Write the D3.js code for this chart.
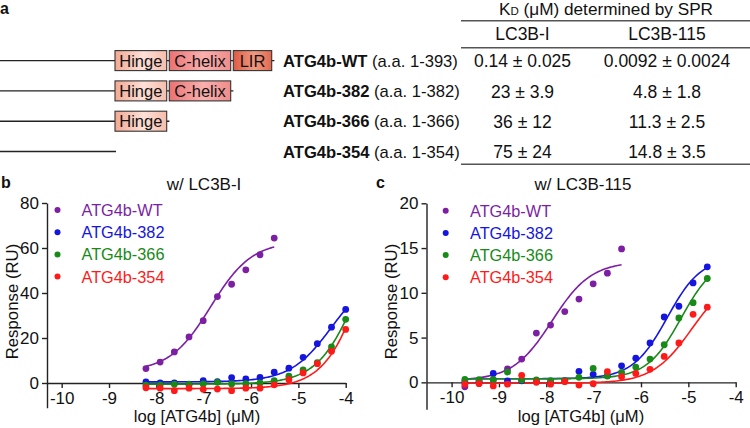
<!DOCTYPE html>
<html><head><meta charset="utf-8">
<script src="https://cdn.jsdelivr.net/npm/d3@7"></script>
<style>
body{margin:0;background:#fff}
svg{display:block}
text{font-family:"Liberation Sans",Arial,Helvetica,sans-serif;fill:#111}
</style>
</head><body>
<svg id="fig" width="750" height="428"></svg>
<script>
// ---------- Panel a data ----------
const constructNames = ["ATG4b-WT", "ATG4b-382", "ATG4b-366", "ATG4b-354"];
const constructRanges = ["(a.a. 1-393)", "(a.a. 1-382)", "(a.a. 1-366)", "(a.a. 1-354)"];
const domainNames = ["Hinge", "C-helix", "LIR"];
const domainsPerConstruct = [3, 2, 1, 0];
const tableColumns = ["LC3B-I", "LC3B-115"];
const kdLC3BI = ["0.14 ± 0.025", "23 ± 3.9", "36 ± 12", "75 ± 24"];
const kdLC3B115 = ["0.0092 ± 0.0024", "4.8 ± 1.8", "11.3 ± 2.5", "14.8 ± 3.5"];

// ---------- Panels b / c data ----------
const seriesNames = ["ATG4b-WT", "ATG4b-382", "ATG4b-366", "ATG4b-354"];
const seriesColors = ["#7d1fa3", "#1515e0", "#178a17", "#ff1a1a"];

const xTicks = [-10, -9, -8, -7, -6, -5, -4];
const yTicksB = [0, 20, 40, 60, 80];
const yTicksC = [0, 5, 10, 15, 20];

// panel b: log concentration (M), 2-fold series
const concB = [-8.22, -7.92, -7.62, -7.31, -7.01, -6.71, -6.41, -6.11, -5.81, -5.51, -5.20, -4.90, -4.60, -4.30, -4.00];
const respB_WT  = [6.4, 9.3, 13.8, 20.5, 27.7, 38.4, 43.9, 50.3, 57.0, 64.4];
const respB_382 = [0.5, 0.0, 0.1, -0.5, 1.0, 0.6, 2.4, 1.8, 2.5, 4.8, 6.6, 11.4, 17.5, 24.8, 32.7];
const respB_366 = [-1.0, -0.8, -0.5, -0.6, -0.4, 0.3, -0.4, -0.3, 0.0, 1.0, 3.0, 5.8, 9.0, 16.1, 28.3];
const respB_354 = [-2.1, -2.3, -3.4, -2.3, -2.8, -2.7, -3.4, -2.3, -2.3, -0.8, 1.5, 4.5, 8.6, 14.1, 23.8];
const fitB_bottom = [5, 0.5, -0.5, -2.5];
const fitB_top = [63, 49, 85, 110];
const fitB_logEC50 = [-6.85, -4.3, -3.7, -3.5];
const fitB_hill = [1, 1, 1, 1];

// panel c
const concC = [-9.72, -9.42, -9.12, -8.82, -8.52, -8.21, -7.91, -7.61, -7.31, -7.01, -6.71, -6.41, -6.11, -5.81, -5.51, -5.20, -4.90, -4.60];
const respC_WT  = [-0.5, 0.0, 0.3, 1.5, 2.6, 5.5, 6.4, 7.9, 9.3, 11.0, 12.2, 14.9];
const respC_382 = [0.05, 0.1, 1.0, 0.17, 0.17, 0.1, 0.0, 0.2, 1.23, 0.9, 0.75, 1.85, 2.7, 4.4, 7.3, 8.5, 11.1, 12.9];
const respC_366 = [0.33, 0.3, 0.3, 1.15, 0.26, 0.26, 0.2, 0.2, 0.56, 1.56, 0.7, 1.1, 1.7, 2.6, 4.2, 7.2, 8.9, 11.6];
const respC_354 = [-0.2, -0.15, -0.4, -0.2, 0.78, 0.0, -0.2, 0.07, -0.3, -0.15, 1.2, 0.63, 1.0, 1.45, 2.9, 4.4, 7.6, 8.4];
const fitC_bottom = [0.2, 0.4, 0.4, -0.1];
const fitC_top = [13.5, 14, 14, 12];
const fitC_logEC50 = [-7.88, -5.45, -5.15, -4.93];
const fitC_hill = [1.05, 1.2, 1.2, 1.05];

// ---------- drawing ----------
const svg = d3.select("#fig");
const FONT = 17;

// Panel label a
svg.append("text").attr("x", 0).attr("y", 14).attr("font-size", 16).attr("font-weight", "bold").text("a");

// gradients
const defs = svg.append("defs");
const gradSpecs = [
  ["gHinge", "#f3a892", "#fde1d8", "#f6bcab"],
  ["gCHelix", "#ea7272", "#f9b0ae", "#ef8c8a"],
  ["gLIR", "#de5a44", "#f09a80", "#e4684f"]
];
gradSpecs.forEach(([id, a, b, c]) => {
  const g = defs.append("linearGradient").attr("id", id).attr("x1", "0%").attr("x2", "100%");
  g.append("stop").attr("offset", "0%").attr("stop-color", a);
  g.append("stop").attr("offset", "55%").attr("stop-color", b);
  g.append("stop").attr("offset", "100%").attr("stop-color", c);
});
const gradIds = ["gHinge", "gCHelix", "gLIR"];
const boxX = [[115, 166.7], [169.3, 230.7], [233.3, 271.7]];
const rowY = i => 60.6 + i * 30.3;

constructNames.forEach((name, i) => {
  const cy = rowY(i);
  const nd = domainsPerConstruct[i];
  const lineEnd = nd === 0 ? 116 : boxX[nd - 1][1] + 2.7;
  svg.append("line").attr("x1", 0).attr("x2", lineEnd).attr("y1", cy).attr("y2", cy)
    .attr("stroke", "#222").attr("stroke-width", 1.4);
  for (let d = 0; d < nd; d++) {
    svg.append("rect").attr("x", boxX[d][0]).attr("y", cy - 10).attr("width", boxX[d][1] - boxX[d][0]).attr("height", 20)
      .attr("fill", `url(#${gradIds[d]})`).attr("stroke", "#333").attr("stroke-width", 1.1);
    svg.append("text").attr("x", (boxX[d][0] + boxX[d][1]) / 2).attr("y", cy + 6).attr("text-anchor", "middle")
      .attr("font-size", 16.5).text(domainNames[d]);
  }
  const t = svg.append("text").attr("x", 283).attr("y", cy + 6.2).attr("font-size", 16.6);
  t.append("tspan").attr("font-weight", "bold").text(name);
  t.append("tspan").text(" " + constructRanges[i]);
});

// table
const tx0 = 461, tx1 = 750;
const colX = [522.5, 667];
[20.8, 47.7, 164.3].forEach(y => svg.append("line").attr("x1", tx0).attr("x2", tx1).attr("y1", y).attr("y2", y)
  .attr("stroke", "#555").attr("stroke-width", 1.4));
const hdr = svg.append("text").attr("x", 606).attr("y", 15).attr("text-anchor", "middle").attr("font-size", 17.2);
hdr.append("tspan").text("K");
hdr.append("tspan").attr("font-size", 11.5).text("D");
hdr.append("tspan").text(" (μM) determined by SPR");
tableColumns.forEach((c, j) => svg.append("text").attr("x", colX[j]).attr("y", 39.6).attr("text-anchor", "middle")
  .attr("font-size", 17.5).text(c));
[kdLC3BI, kdLC3B115].forEach((col, j) => col.forEach((v, i) =>
  svg.append("text").attr("x", colX[j]).attr("y", rowY(i) + 6.6).attr("text-anchor", "middle").attr("font-size", 17.5).text(v)));

// ---------- binding panels ----------
function fourPL(x, b, t, ec, h) { return b + (t - b) / (1 + Math.pow(10, (ec - x) * h)); }

function drawPanel(cfg) {
  const g = svg.append("g");
  const x = d3.scaleLinear().domain(cfg.xDomain).range(cfg.xRange);
  const y = d3.scaleLinear().domain(cfg.yDomain).range(cfg.yRange);

  const ya = g.append("g").attr("transform", `translate(${cfg.xRange[0]},0)`)
    .call(d3.axisLeft(y).tickValues(cfg.yTicks).tickSize(5).tickSizeOuter(0).tickPadding(3).tickFormat(d => String(d)));
  const xa = g.append("g").attr("transform", `translate(0,${y(0)})`)
    .call(d3.axisBottom(x).tickValues(xTicks).tickSize(5).tickSizeOuter(0).tickPadding(4).tickFormat(d => String(d)));
  [ya, xa].forEach(a => {
    a.selectAll("path,line").attr("stroke", "#222").attr("stroke-width", 1.4);
    a.selectAll("text").attr("font-size", FONT).attr("fill", "#111")
      .attr("font-family", '"Liberation Sans",Arial,sans-serif');
  });

  const line = d3.line().x(d => x(d[0])).y(d => y(d[1]));
  cfg.series.forEach((s, k) => {
    const xs = s.conc;
    const lo = xs[0], hi = xs[xs.length - 1];
    const pts = d3.range(lo, hi + 0.0001, (hi - lo) / 120).map(v => [v, fourPL(v, cfg.fb[k], cfg.ft[k], cfg.fe[k], cfg.fh[k])]);
    g.append("path").datum(pts).attr("d", line).attr("fill", "none").attr("stroke", seriesColors[k]).attr("stroke-width", 1.6);
  });
  cfg.series.forEach((s, k) => {
    g.selectAll(null).data(s.resp.map((r, i) => [s.conc[i], r])).enter().append("circle")
      .attr("cx", d => x(d[0])).attr("cy", d => y(d[1])).attr("r", 3.4).attr("fill", seriesColors[k]);
  });

  seriesNames.forEach((n, k) => {
    const ly = cfg.legendY + k * 22.2;
    g.append("circle").attr("cx", cfg.legendDotX).attr("cy", ly).attr("r", 3).attr("fill", seriesColors[k]);
    g.append("text").attr("x", cfg.legendTextX).attr("y", ly + 6).attr("font-size", 16.3).style("fill", seriesColors[k]).text(n);
  });

  g.append("text").attr("x", cfg.titleX).attr("y", 190).attr("text-anchor", "middle").attr("font-size", FONT).text(cfg.title);
  g.append("text").attr("x", cfg.xTitleX).attr("y", 422).attr("text-anchor", "middle").attr("font-size", 16.6).text("log [ATG4b] (μM)");
  g.append("text").attr("transform", `translate(${cfg.yTitleX},301.5) rotate(-90)`).attr("text-anchor", "middle")
    .attr("font-size", 16.8).text("Response (RU)");
  g.append("text").attr("x", cfg.labelX).attr("y", 188).attr("font-size", 16).attr("font-weight", "bold").text(cfg.label);
}

drawPanel({
  label: "b", labelX: 1, title: "w/ LC3B-I", titleX: 204, xTitleX: 197, yTitleX: 18,
  xDomain: [-10.31, -4], xRange: [47, 345.7], yDomain: [-11, 80], yRange: [407.75, 203], yTicks: yTicksB,
  legendY: 210, legendDotX: 57.5, legendTextX: 81.5,
  series: [
    { conc: concB.slice(0, respB_WT.length), resp: respB_WT },
    { conc: concB, resp: respB_382 },
    { conc: concB, resp: respB_366 },
    { conc: concB, resp: respB_354 }
  ],
  fb: fitB_bottom, ft: fitB_top, fe: fitB_logEC50, fh: fitB_hill
});

drawPanel({
  label: "c", labelX: 376, title: "w/ LC3B-115", titleX: 583, xTitleX: 581, yTitleX: 397,
  xDomain: [-10.53, -4], xRange: [426.5, 735.7], yDomain: [-3, 20], yRange: [409.2, 203.3], yTicks: yTicksC,
  legendY: 210.7, legendDotX: 445.7, legendTextX: 470,
  series: [
    { conc: concC.slice(0, respC_WT.length), resp: respC_WT },
    { conc: concC, resp: respC_382 },
    { conc: concC, resp: respC_366 },
    { conc: concC, resp: respC_354 }
  ],
  fb: fitC_bottom, ft: fitC_top, fe: fitC_logEC50, fh: fitC_hill
});
</script>
</body></html>
